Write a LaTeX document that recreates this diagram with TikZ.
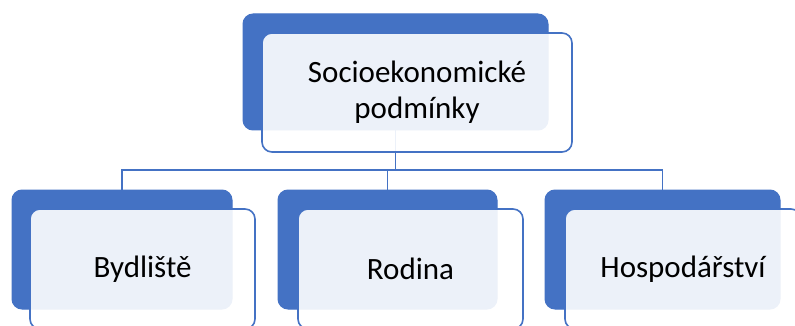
\documentclass[tikz,border=0pt]{standalone}
\usepackage{fontspec}
\setmainfont{Carlito}
\definecolor{accblue}{HTML}{4472C4}
\begin{document}
\begin{tikzpicture}[x=1pt,y=-1pt,
  backbox/.style={anchor=north west,inner sep=0pt,outer sep=0pt,fill=accblue,draw=accblue,line width=1pt,rounded corners=10pt},
  frontbox/.style={anchor=north west,inner sep=0pt,outer sep=0pt,fill=white,fill opacity=0.9,text opacity=1,draw=accblue,line width=1.6pt,rounded corners=10pt,align=center,font=\fontsize{31}{36}\selectfont,text=black},
  conn/.style={draw=accblue,line width=1.8pt}]
\useasboundingbox (0,0) rectangle (795,326);
\begin{scope}
\clip (0,0) rectangle (795,326);
% back boxes
\node[backbox,minimum width=305pt,minimum height=116pt] (topb) at (243,14) {};
\node[backbox,minimum width=220pt,minimum height=119pt] (lb) at (12,190) {};
\node[backbox,minimum width=219pt,minimum height=119pt] (mb) at (278,190) {};
\node[backbox,minimum width=235pt,minimum height=119pt] (rb) at (545,190) {};
% connectors
\draw[conn] (topb.south) -- ++(0,40) -| (lb.north);
\draw[conn] (topb.south) -- ++(0,40) -| (mb.north);
\draw[conn] (topb.south) -- ++(0,40) -| (rb.north);
% front boxes
\node[frontbox,minimum width=310pt,minimum height=119pt] (topf) at (262,33) {Socioekonomické\\podmínky};
\node[frontbox,minimum width=225pt,minimum height=120pt] (lf) at (30,209) {Bydliště};
\node[frontbox,minimum width=225pt,minimum height=120pt] (mf) at (298,209) {Rodina};
\node[frontbox,minimum width=236pt,minimum height=120pt] (rf) at (565,209) {Hospodářství};
\end{scope}
\end{tikzpicture}
\end{document}
